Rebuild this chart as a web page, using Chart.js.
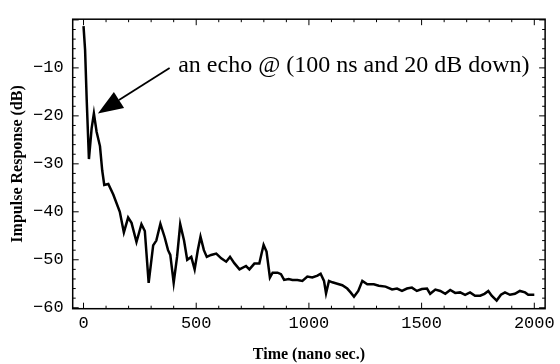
<!DOCTYPE html>
<html lang="en">
  <head>
    <meta charset="UTF-8" />
    <title>Impulse Response</title>
    <script src="https://cdn.jsdelivr.net/npm/chart.js"></script>
    <style>
      html, body { margin: 0; padding: 0; background: #fff; }
      #wrap { width: 560px; height: 364px; }
    </style>
  </head>
  <body>
    <div id="wrap"><canvas id="myChart"></canvas></div>
    <script>
      // measured impulse response, time in ns, level in dB
      const timeNs = [0, 7, 14, 24, 36, 46, 58, 73, 83, 92, 110, 132, 161, 179, 198, 213, 235, 257, 272, 289,
        309, 323, 341, 360, 375, 385, 400, 415, 429, 446, 460, 478, 493, 507, 519, 534, 547, 566, 589, 611,
        633, 650, 669, 692, 721, 736, 758, 780, 790, 799, 812, 827, 839, 861, 876, 890, 910, 927, 949, 971,
        993, 1015, 1038, 1052, 1067, 1076, 1089, 1104, 1126, 1148, 1170, 1185, 1200, 1219, 1237, 1259, 1288,
        1310, 1340, 1369, 1391, 1413, 1435, 1457, 1479, 1501, 1524, 1538, 1561, 1583, 1605, 1627, 1649, 1671,
        1693, 1715, 1737, 1760, 1779, 1796, 1811, 1833, 1852, 1870, 1892, 1914, 1936, 1959, 1973, 2000];
      const responseDb = [-1.3, -6.3, -16.5, -29, -22.6, -19.5, -23.3, -26.3, -31.4, -34.4, -34.2, -36.4, -40,
        -44.3, -41.2, -42.3, -46.3, -42.6, -44, -54.8, -47, -46, -42.5, -45.3, -48, -49, -54.8, -49.4, -42.6,
        -46, -50, -49.4, -52, -48, -45.2, -48, -49.4, -49, -48.7, -49.7, -50.4, -49.4, -50.7, -52, -51.3, -52,
        -50.8, -50.8, -48.7, -46.9, -48.3, -53.7, -52.7, -52.7, -53, -54.2, -54, -54.2, -54.2, -54.4, -53.5,
        -53.7, -53.3, -52.9, -54.4, -57, -54.4, -54.7, -55, -55.3, -56, -56.8, -57.7, -56.5, -54.4, -55.1,
        -55.1, -55.4, -55.6, -56.2, -56, -56.5, -56, -55.8, -56.5, -56.1, -56, -57.1, -56.2, -56.5, -57.1,
        -56.3, -56.9, -56.8, -57.3, -56.8, -57.5, -57.5, -57.1, -56.5, -57.5, -58.5, -57.3, -56.8, -57.3,
        -57.1, -56.5, -56.8, -57.3, -57.3];

      const xTicks = [0, 500, 1000, 1500, 2000];
      const yTicks = [-60, -50, -40, -30, -20, -10];

      // echo marker: peak position and the label
      const echoNs = 46;
      const echoDb = -19.5;
      const echoLabel = "an echo @ (100 ns and 20 dB down)";

      const points = timeNs.map((t, i) => ({ x: t, y: responseDb[i] }));

      // Mathematica-style frame with inward ticks on all four sides
      const framePlugin = {
        id: "frame",
        afterDraw(chart) {
          const { ctx, chartArea: a, scales } = chart;
          const xs = scales.x, ys = scales.y;
          ctx.save();
          ctx.strokeStyle = "#000";
          ctx.lineWidth = 1.5;
          ctx.strokeRect(a.left, a.top, a.right - a.left, a.bottom - a.top);
          ctx.lineWidth = 1;
          ctx.beginPath();
          for (let v = 0; v <= 2000; v += 100) {
            const px = xs.getPixelForValue(v);
            const len = v % 500 === 0 ? 6 : 3;
            ctx.moveTo(px, a.bottom); ctx.lineTo(px, a.bottom - len);
            ctx.moveTo(px, a.top); ctx.lineTo(px, a.top + len);
          }
          for (let v = -60; v <= 0; v += 2) {
            const py = ys.getPixelForValue(v);
            if (py < a.top || py > a.bottom) continue;
            const len = v % 10 === 0 ? 6 : 3;
            ctx.moveTo(a.left, py); ctx.lineTo(a.left + len, py);
            ctx.moveTo(a.right, py); ctx.lineTo(a.right - len, py);
          }
          ctx.stroke();

          // annotation text and arrow
          const tx = xs.getPixelForValue(420), ty = ys.getPixelForValue(-9.6);
          ctx.fillStyle = "#000";
          ctx.font = "24px 'Liberation Serif', serif";
          ctx.textBaseline = "middle";
          ctx.textAlign = "left";
          ctx.fillText(echoLabel, tx, ty);

          const x0 = xs.getPixelForValue(382), y0 = ys.getPixelForValue(-10);
          const x1 = xs.getPixelForValue(echoNs) + 4, y1 = ys.getPixelForValue(echoDb);
          const ang = Math.atan2(y1 - y0, x1 - x0);
          const headLen = 25, headW = 9.5;
          const bx = x1 - headLen * Math.cos(ang), by = y1 - headLen * Math.sin(ang);
          ctx.lineWidth = 1.8;
          ctx.beginPath();
          ctx.moveTo(x0, y0); ctx.lineTo(bx, by);
          ctx.stroke();
          ctx.beginPath();
          ctx.moveTo(x1, y1);
          ctx.lineTo(bx + headW * Math.sin(ang), by - headW * Math.cos(ang));
          ctx.lineTo(bx - headW * Math.sin(ang), by + headW * Math.cos(ang));
          ctx.closePath();
          ctx.fill();
          ctx.restore();
        },
      };

      const config = {
        type: "line",
        data: {
          datasets: [
            {
              data: points,
              borderColor: "#000",
              borderWidth: 2.5,
              pointRadius: 0,
              tension: 0,
              fill: false,
            },
          ],
        },
        options: {
          responsive: true,
          maintainAspectRatio: false,
          animation: false,
          layout: { padding: { top: 12, right: 13, left: 0, bottom: 0 } },
          scales: {
            x: {
              type: "linear",
              min: -48,
              max: 2048,
              afterBuildTicks: (s) => { s.ticks = xTicks.map((v) => ({ value: v })); },
              afterFit: (s) => { s.height = 55.3; },
              grid: { display: false, drawTicks: false },
              border: { display: false },
              ticks: {
                color: "#000",
                padding: 5,
                maxRotation: 0,
                font: { family: "'Liberation Mono', monospace", size: 17 },
                callback: (v) => String(v),
              },
              title: {
                display: true,
                text: "Time (nano sec.)",
                color: "#000",
                padding: { top: 10, bottom: 0 },
                font: { family: "'Liberation Serif', serif", size: 16, weight: "bold" },
              },
            },
            y: {
              min: -60.2,
              max: 0.15,
              afterBuildTicks: (s) => { s.ticks = yTicks.map((v) => ({ value: v })); },
              afterFit: (s) => { s.width = 72.7; },
              grid: { display: false, drawTicks: false },
              border: { display: false },
              ticks: {
                color: "#000",
                padding: 9,
                font: { family: "'Liberation Mono', monospace", size: 17 },
                callback: (v) => String(v).replace("-", "\u2212"),
              },
              title: {
                display: true,
                text: "Impulse Response (dB)",
                color: "#000",
                padding: { top: 8, bottom: 0 },
                font: { family: "'Liberation Serif', serif", size: 16, weight: "bold" },
              },
            },
          },
          plugins: {
            legend: { display: false },
            tooltip: { enabled: false },
          },
        },
        plugins: [framePlugin],
      };
      const myChart = new Chart(document.getElementById("myChart"), config);
    </script>
  </body>
</html>
